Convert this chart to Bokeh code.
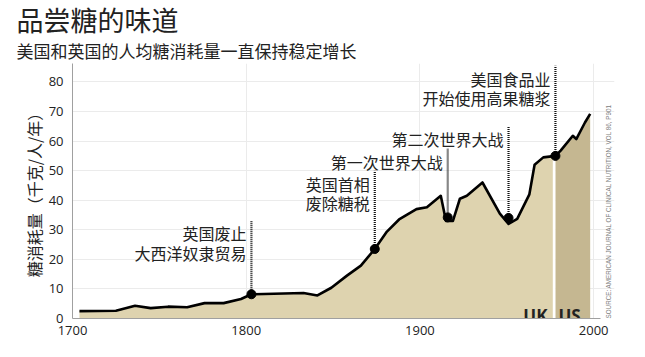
import numpy as np
from bokeh.plotting import figure
from bokeh.models import Title, Label, FixedTicker
from bokeh.core.properties import value
from bokeh.embed import file_html
from bokeh.resources import INLINE

# ---------------- data ----------------
years = [1704, 1725, 1736, 1745, 1755, 1766, 1776, 1787, 1797, 1803,
         1833, 1841, 1849, 1858, 1866, 1874, 1881, 1888, 1898, 1904,
         1912, 1915, 1919, 1923, 1927, 1936, 1946, 1951, 1956, 1963,
         1966, 1971, 1978, 1981, 1988, 1990, 1995, 1998]
consumption = [2.5, 2.6, 4.3, 3.5, 4.0, 3.8, 5.2, 5.2, 6.6, 8.2,
               8.6, 7.8, 10.4, 14.5, 17.9, 23.5, 29.4, 33.5, 37.0, 37.6,
               41.5, 33.0, 33.0, 40.5, 41.5, 46.0, 35.5, 32.0, 33.7, 42.0,
               52.0, 54.5, 55.0, 56.8, 61.8, 60.7, 66.3, 69.2]
switch_year = 1978  # UK data before, US data after

event_years = [1803, 1874, 1916, 1951, 1978]
event_values = [8.2, 23.5, 34.2, 34.0, 55.0]
event_labels = ["英国废止\n大西洋奴隶贸易", "英国首相\n废除糖税", "第一次世界大战",
                "第二次世界大战", "美国食品业\n开始使用高果糖浆"]
region_labels = ["UK", "US"]

x_ticks = [1700, 1800, 1900, 2000]
y_ticks = [0, 10, 20, 30, 40, 50, 60, 70, 80]

title_text = "品尝糖的味道"
subtitle_text = "美国和英国的人均糖消耗量一直保持稳定增长"
y_label = "糖消耗量（千克/人/年）"
source_text = "SOURCE: AMERICAN JOURNAL OF CLINICAL NUTRITION, VOL 86, P901"

# ---------------- layout / style ----------------
label_tops = [33.2, 50.0, 57.4, 65.0, 85.5]   # where each dotted leader ends
CJK = "Noto Sans CJK SC"
LATIN = "Open Sans"
UK_FILL = "#ded3af"
US_FILL = "#c5b791"

p = figure(width=640, height=348, x_range=(1700, 2012), y_range=(0, 86.25),
           output_backend="svg", toolbar_location=None,
           min_border_left=72, min_border_right=26, min_border_bottom=30,
           min_border_top=55, background_fill_color="white",
           border_fill_color="white")
p.outline_line_color = None

# titles (p.title is outermost; later "above" titles sit nearer the plot)
p.title.text = title_text
p.title.text_font = CJK
p.title.text_font_size = "27px"
p.title.text_font_style = "normal"
p.title.text_color = "#222222"
p.title.align = "left"
p.title.offset = -56
p.title.standoff = -6
sub_title = Title(text=subtitle_text, text_font=CJK, text_font_size="17px",
                  text_font_style="normal", text_color="#222222",
                  align="left", offset=-56, standoff=1)
p.add_layout(sub_title, "above")

# axes
p.xaxis.ticker = FixedTicker(ticks=x_ticks)
p.yaxis.ticker = FixedTicker(ticks=y_ticks)
p.xaxis.bounds = (1700, 2004)
for ax in (p.xaxis[0], p.yaxis[0]):
    ax.axis_line_color = "#a0a0a0"
    ax.axis_line_width = 1
    ax.major_tick_line_color = None
    ax.minor_tick_line_color = None
    ax.major_tick_out = 0
    ax.major_tick_in = 0
    ax.minor_tick_out = 0
    ax.minor_tick_in = 0
    ax.major_label_text_font = LATIN
    ax.major_label_text_font_size = "13px"
    ax.major_label_text_color = "#222222"
p.xaxis.major_label_standoff = 7
p.xaxis.axis_label_standoff = 0
p.yaxis.major_label_standoff = 9
p.yaxis.axis_label = y_label
p.yaxis.axis_label_text_font = CJK
p.yaxis.axis_label_text_font_size = "16px"
p.yaxis.axis_label_text_font_style = "normal"
p.yaxis.axis_label_text_color = "#222222"
p.yaxis.axis_label_standoff = 0

p.xgrid.ticker = FixedTicker(ticks=x_ticks)
p.ygrid.ticker = FixedTicker(ticks=y_ticks)
p.xgrid.grid_line_color = "#ebebeb"
p.ygrid.grid_line_color = "#ebebeb"

# areas
yrs = np.array(years, dtype=float)
vals = np.array(consumption, dtype=float)
uk = yrs <= switch_year
us = yrs >= switch_year
p.varea(x=yrs[uk], y1=0, y2=vals[uk], fill_color=UK_FILL)
p.varea(x=yrs[us], y1=0, y2=vals[us], fill_color=US_FILL)
sep_x = switch_year - 0.8
p.segment(x0=[sep_x], y0=[0], x1=[sep_x], y1=[np.interp(sep_x, yrs, vals)],
          line_color="white", line_width=2.5)

# main line
p.line(yrs, vals, line_color="black", line_width=2.6, line_join="round")

# event leaders, dots and labels
p.segment(x0=event_years, y0=event_values, x1=event_years, y1=label_tops,
          line_color="#111111", line_width=2.2, line_dash="1 1")
p.scatter(event_years, event_values, size=9, color="black")
p.text(x=event_years, y=label_tops, text=event_labels, x_offset=-5, y_offset=1,
       text_align="right", text_baseline="top", text_font=value(CJK),
       text_font_size="16px", text_color="#222222", text_line_height=0.8)

# UK / US
p.text(x=[switch_year, switch_year], y=[1.0, 1.0], text=region_labels,
       x_offset=[-8, 3], text_align=["right", "left"], text_baseline="alphabetic",
       text_font=value(LATIN), text_font_size="17px", text_font_style="bold",
       text_color="#222222")

# source (inside the frame, right of the bounded x axis)
p.add_layout(Label(x=2008.6, y=0.0, text=source_text, angle=np.pi / 2,
                   text_font="Liberation Sans Narrow, Liberation Sans",
                   text_font_size="6.3px", text_color="#808080",
                   text_baseline="middle", text_align="left"))

open("out.html", "w").write(file_html(p, INLINE))
